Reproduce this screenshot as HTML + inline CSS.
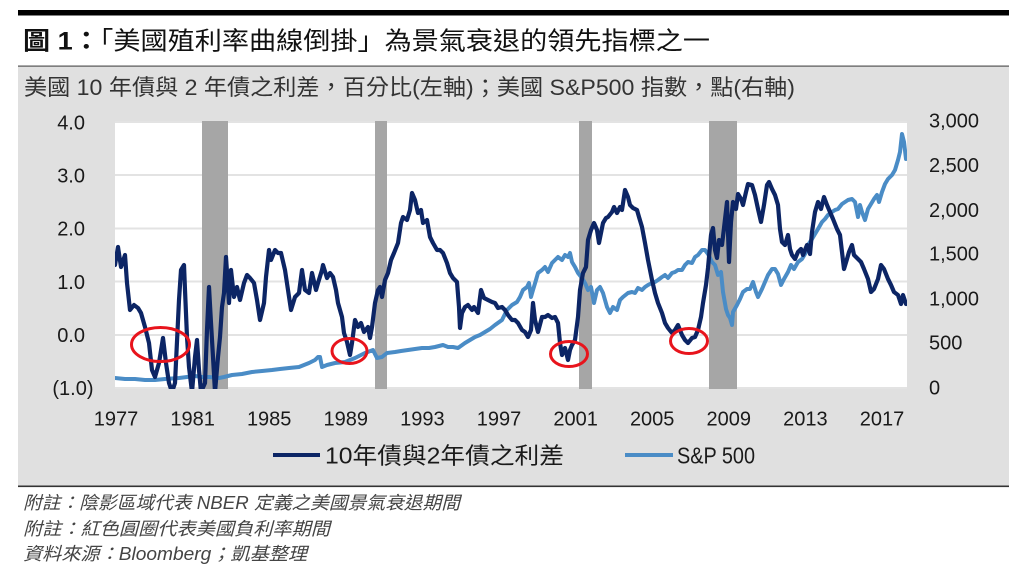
<!DOCTYPE html>
<html><head><meta charset="utf-8"><style>
html,body{margin:0;padding:0;background:#fff;}
svg{display:block;}
text{font-family:"Liberation Sans","Noto Sans CJK TC","Noto Sans CJK SC",sans-serif;}
</style></head><body>
<svg width="1024" height="576" viewBox="0 0 1024 576" xmlns="http://www.w3.org/2000/svg">
<defs><clipPath id="pc"><rect x="115" y="121" width="792" height="268"/></clipPath></defs>
<rect x="18" y="10" width="991" height="5.5" fill="#000"/>
<text x="23" y="49.5" font-size="25" fill="#111" textLength="687" lengthAdjust="spacingAndGlyphs"><tspan font-weight="bold">圖 1：</tspan>「美國殖利率曲線倒掛」為景氣衰退的領先指標之一</text>
<rect x="18" y="66" width="991" height="420" fill="#e0e0e0"/>
<rect x="18" y="65.5" width="991" height="1.2" fill="#555"/>
<rect x="18" y="485.5" width="991" height="1.6" fill="#333"/>
<text x="24" y="95" font-size="22" fill="#333" textLength="771" lengthAdjust="spacingAndGlyphs">美國 10 年債與 2 年債之利差，百分比(左軸)；美國 S&amp;P500 指數，點(右軸)</text>
<rect x="115" y="121" width="792" height="268" fill="#fff"/>
<g fill="#e3e3e3">
<rect x="115" y="121" width="792" height="2"/>
<rect x="115" y="174" width="792" height="2"/>
<rect x="115" y="227.5" width="792" height="2"/>
<rect x="115" y="280.5" width="792" height="2"/>
<rect x="115" y="334" width="792" height="2"/>
<rect x="115" y="387" width="792" height="2"/>
</g>
<g fill="#a6a6a6">
<rect x="202" y="121" width="26" height="268"/>
<rect x="375" y="121" width="12" height="268"/>
<rect x="579" y="121" width="13" height="268"/>
<rect x="709" y="121" width="28" height="268"/>
</g>
<g clip-path="url(#pc)" fill="none" stroke-linejoin="round" stroke-linecap="round">
<polyline stroke="#4a8cc6" stroke-width="4" points="115,378 125,379 135,379 145,380 155,380 165,379 179,378 187,377 195,376 202,377 209,377 219,378 224,377 232,375 242,374 252,372 262,371 272,370 280,369 289,368 299,367 304,365 309,363 315,360 318,357 320,357 322,367 327,365 335,363 345,362 355,358 365,353 373,350 377,358 382,357 387,353 395,352 401,351 408,350 415,349 422,348 429,348 435,347 443,345 448,347 453,347 458,348 465,343 470,340 475,337 480,335 485,332 490,329 495,325 502,320 507,310 512,305 517,302 520,297 523,290 527,287 529,283 531,297 533,290 536,280 538,273 542,270 545,267 548,272 552,263 555,260 558,257 562,260 565,255 568,257 570,253 572,262 575,267 578,273 582,278 585,283 588,290 591,287 594,303 597,290 600,287 603,293 607,307 610,313 613,307 617,310 620,300 623,297 628,293 632,292 635,293 638,288 642,290 645,287 648,285 652,283 655,282 658,280 662,277 665,275 668,278 672,273 675,272 678,270 682,270 685,265 688,262 692,263 695,257 698,255 702,250 705,250 708,254 712,262 715,265 718,275 721,272 723,292 726,309 728,315 730,318 732,325 733,312 737,305 740,299 743,292 747,289 750,289 753,282 756,292 758,297 762,289 765,282 768,275 772,269 775,269 778,274 781,285 784,279 788,272 791,265 794,269 798,262 802,259 805,254 808,245 812,239 815,234 818,229 822,222 825,219 828,215 832,212 835,210 838,209 842,204 845,202 848,200 852,199 855,202 858,217 860,205 862,212 865,220 868,209 871,204 874,199 877,195 879,202 882,192 885,184 888,179 892,175 895,170 898,160 900,152 902,134 904,142 906,159"/>
<polyline stroke="#0c2565" stroke-width="4.2" points="115,265 118,247 121,267 125,255 127,283 130,310 134,305 138,308 141,313 145,327 149,343 152,370 155,377 159,363 163,338 166,363 169,383 172,392 175,383 179,300 181,270 184,265 185,290 187,337 189,367 192,392 195,357 197,340 199,370 201,392 205,383 207,330 209,287 211,323 213,357 215,392 218,357 220,337 222,307 224,293 226,257 229,303 231,270 234,297 237,287 240,300 244,283 247,275 250,278 254,283 257,300 260,320 264,303 266,277 269,250 271,260 275,250 278,253 281,253 285,270 288,290 291,310 295,297 299,293 302,270 305,290 309,293 312,273 316,290 318,283 322,270 323,265 327,278 330,273 333,277 336,290 338,303 342,317 344,333 347,342 350,355 352,343 355,320 358,327 361,323 364,332 368,327 370,338 372,327 375,303 378,290 380,287 382,297 385,280 388,273 391,260 394,253 398,243 401,223 403,217 407,220 410,210 412,193 415,200 418,213 421,210 423,223 427,220 430,237 433,243 437,250 440,250 443,253 447,263 450,273 453,278 457,282 459,307 460,328 462,313 465,307 468,305 472,310 474,307 478,313 481,290 484,298 488,300 492,302 495,303 498,308 502,307 505,310 508,315 512,320 515,320 518,323 522,330 525,332 528,337 531,330 533,303 535,320 538,332 542,317 545,317 548,315 552,318 555,317 558,323 560,343 562,355 565,348 568,360 570,350 572,345 575,340 578,317 580,290 583,273 586,267 588,240 591,230 594,223 597,230 599,243 601,233 603,223 606,218 608,217 612,212 614,207 617,213 620,207 622,210 625,190 628,197 630,205 633,208 637,210 639,217 642,227 645,243 648,260 652,280 655,293 658,303 662,313 665,323 668,328 672,333 675,330 678,325 682,335 685,340 688,343 692,338 695,337 698,330 701,317 703,303 706,285 708,268 711,235 713,228 715,250 717,258 719,240 722,245 724,228 727,202 729,262 731,222 733,202 736,209 738,194 741,199 743,205 746,192 748,184 752,185 755,195 758,209 761,222 764,205 767,185 769,182 772,189 775,195 778,205 780,229 782,242 785,245 788,235 790,249 792,255 795,259 798,252 801,249 803,255 807,245 810,254 812,232 815,212 818,202 821,209 824,197 827,205 830,212 833,219 837,229 840,235 842,252 844,269 847,259 849,252 852,245 854,255 858,259 861,262 864,269 868,279 871,292 874,289 878,279 881,265 884,269 888,279 891,285 894,292 898,295 901,304 903,295 906,304"/>
</g>
<g fill="none" stroke="#e8141c" stroke-width="3">
<ellipse cx="160.5" cy="344.5" rx="29" ry="17"/>
<ellipse cx="349.5" cy="351" rx="17.5" ry="12.5"/>
<ellipse cx="569" cy="354" rx="18.5" ry="12.5"/>
<ellipse cx="689" cy="341" rx="18.5" ry="12.5"/>
</g>
<g font-size="20" fill="#1a1a1a" text-anchor="end">
<text x="85" y="129.5">4.0</text>
<text x="85" y="182.5">3.0</text>
<text x="85" y="235.5">2.0</text>
<text x="85" y="289">1.0</text>
<text x="85" y="342">0.0</text>
<text x="93.5" y="395">(1.0)</text>
</g>
<g font-size="20" fill="#1a1a1a">
<text x="929" y="127.5">3,000</text>
<text x="929" y="172">2,500</text>
<text x="929" y="217">2,000</text>
<text x="929" y="260.5">1,500</text>
<text x="929" y="305.5">1,000</text>
<text x="929" y="349.5">500</text>
<text x="929" y="394.5">0</text>
</g>
<g font-size="20" fill="#1a1a1a" text-anchor="middle">
<text x="116" y="425.5">1977</text>
<text x="192.6" y="425.5">1981</text>
<text x="269.2" y="425.5">1985</text>
<text x="345.8" y="425.5">1989</text>
<text x="422.4" y="425.5">1993</text>
<text x="499" y="425.5">1997</text>
<text x="575.6" y="425.5">2001</text>
<text x="652.2" y="425.5">2005</text>
<text x="728.8" y="425.5">2009</text>
<text x="805.4" y="425.5">2013</text>
<text x="882" y="425.5">2017</text>
</g>
<rect x="273" y="453" width="47" height="4" fill="#0c2565"/>
<text x="325" y="463.5" font-size="23" fill="#1a1a1a" textLength="239" lengthAdjust="spacingAndGlyphs">10年債與2年債之利差</text>
<rect x="625" y="453" width="48" height="4" fill="#4a8cc6"/>
<text x="677" y="463.5" font-size="23" fill="#1a1a1a" textLength="78" lengthAdjust="spacingAndGlyphs">S&amp;P 500</text>
<g font-size="18" fill="#444" font-style="italic">
<text x="23" y="509" textLength="437" lengthAdjust="spacingAndGlyphs">附註：陰影區域代表 NBER 定義之美國景氣衰退期間</text>
<text x="23" y="535" textLength="307" lengthAdjust="spacingAndGlyphs">附註：紅色圓圈代表美國負利率期間</text>
<text x="23" y="560" textLength="284" lengthAdjust="spacingAndGlyphs">資料來源：Bloomberg；凱基整理</text>
</g>
</svg>
</body></html>
